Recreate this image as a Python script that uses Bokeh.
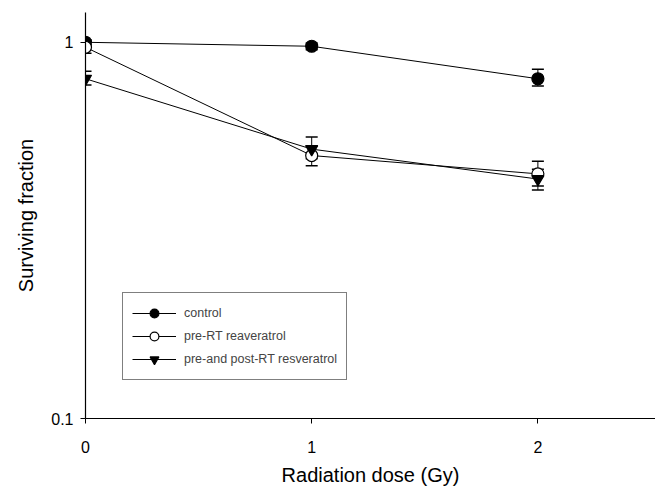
from bokeh.plotting import figure
from bokeh.models import Range1d, FixedTicker, Whisker, TeeHead, ColumnDataSource, Legend, LegendItem
from bokeh.embed import file_html
from bokeh.resources import INLINE

dose = [0, 1, 2]
control = [1.0, 0.976, 0.80]
control_lo = [0.985, 0.955, 0.765]
control_hi = [1.015, 0.995, 0.848]
pre_rt = [0.97, 0.50, 0.447]
pre_rt_lo = [0.935, 0.47, 0.415]
pre_rt_hi = [1.0, 0.53, 0.483]
pre_post = [0.80, 0.52, 0.433]
pre_post_lo = [0.77, 0.49, 0.405]
pre_post_hi = [0.838, 0.56, 0.46]
x_ticks = [0, 1, 2]
y_ticks = [0.1, 1]

FONT = "Liberation Sans"

p = figure(width=655, height=488, y_axis_type="log",
           x_range=Range1d(0, 2.52), y_range=Range1d(0.1, 1.2),
           output_backend="svg", toolbar_location=None,
           min_border_left=85, min_border_right=0, min_border_top=12, min_border_bottom=70)
p.outline_line_color = None
p.xgrid.visible = False
p.ygrid.visible = False

series = [
    ("control", control, control_lo, control_hi, "circle", "black"),
    ("pre-RT reaveratrol", pre_rt, pre_rt_lo, pre_rt_hi, "circle", "white"),
    ("pre-and post-RT resveratrol", pre_post, pre_post_lo, pre_post_hi, "inverted_triangle", "black"),
]

items = []
for name, vals, lo, hi, marker, fill in series:
    src = ColumnDataSource(dict(x=dose, y=vals, lo=lo, hi=hi))
    w = Whisker(source=src, base="x", upper="hi", lower="lo", dimension="height",
                line_color="black", line_width=1,
                upper_head=TeeHead(size=12, line_color="black", line_width=1.5),
                lower_head=TeeHead(size=12, line_color="black", line_width=1.5))
    p.add_layout(w)
    ln = p.line("x", "y", source=src, line_color="black", line_width=1)
    sc = p.scatter("x", "y", source=src, marker=marker, size=12,
                   fill_color=fill, line_color="black", line_width=1.2)
    items.append(LegendItem(label=name, renderers=[ln, sc]))

legend = Legend(items=items, location=(37, 38), border_line_color="black",
                border_line_width=1.2, background_fill_alpha=1,
                label_text_font=FONT, label_text_font_size="12.5px",
                glyph_width=44, glyph_height=22, label_standoff=8,
                padding=9, spacing=1, margin=0, label_height=22)
p.add_layout(legend, "center")

p.xaxis.ticker = FixedTicker(ticks=x_ticks, minor_ticks=[])
p.yaxis.ticker = FixedTicker(ticks=y_ticks, minor_ticks=[])
p.yaxis.major_label_overrides = {0.1: "0.1", 1: "1"}
for ax in (p.xaxis, p.yaxis):
    ax.axis_line_color = "black"
    ax.axis_line_width = 1.2
    ax.major_tick_line_color = "black"
    ax.major_tick_out = 5
    ax.major_tick_in = 0
    ax.minor_tick_line_color = None
    ax.major_label_text_font = FONT
    ax.major_label_text_font_size = "16px"
    ax.major_label_text_color = "black"
    ax.axis_label_text_font = FONT
    ax.axis_label_text_font_size = "20px"
    ax.axis_label_text_font_style = "normal"
    ax.axis_label_text_color = "black"

p.xaxis.axis_label = "Radiation dose (Gy)"
p.yaxis.axis_label = "Surviving fraction"
p.xaxis.major_label_standoff = 17
p.xaxis.axis_label_standoff = 8
p.yaxis.major_label_standoff = 7
p.yaxis.axis_label_standoff = 11

open("out.html", "w").write(file_html(p, INLINE))
